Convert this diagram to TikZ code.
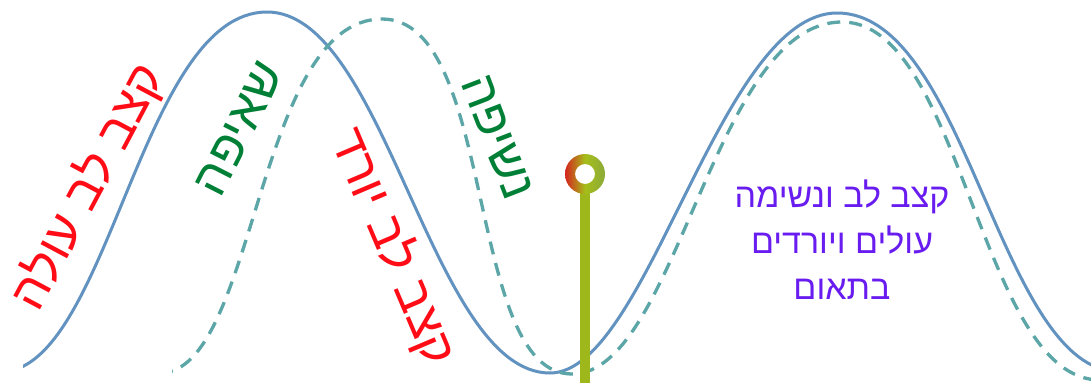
\documentclass[tikz,border=0pt]{standalone}
\usepackage{fontspec}
\newfontfamily\heb[Script=Hebrew]{Liberation Sans}
\TeXXeTstate=1
\definecolor{hrblue}{RGB}{98,146,192}
\definecolor{brteal}{RGB}{92,166,168}
\definecolor{txtred}{RGB}{255,12,22}
\definecolor{txtgreen}{RGB}{0,128,55}
\definecolor{txtpurple}{RGB}{105,28,240}
\definecolor{pinred}{RGB}{212,36,30}
\definecolor{pinmid}{RGB}{166,190,26}
\definecolor{pinolive}{RGB}{140,170,58}
\definecolor{pinline}{RGB}{158,184,28}
\begin{document}
\begin{tikzpicture}[x=1pt,y=-1pt,
  heart/.style={draw=hrblue, line width=3pt, line cap=round},
  breath/.style={draw=brteal, line width=3.3pt, dash pattern=on 13pt off 9pt},
  biglbl/.style={inner sep=0pt, font=\heb\fontsize{50}{50}\selectfont},
  redlbl/.style={biglbl, text=txtred},
  greenlbl/.style={biglbl, text=txtgreen},
  notelbl/.style={inner sep=0pt, align=center, text=txtpurple, font=\heb\fontsize{34}{46}\selectfont}
]
\useasboundingbox (0,0) rectangle (1091,383);
\fill[white] (0,0) rectangle (1091,383);

% heart-rate curve (solid)
\begin{scope}
\clip (23,0) rectangle (1091,383);
\draw[heart] (0,372) .. controls (109,372) and (140,12) .. (267,12)
  .. controls (386,12) and (431,373) .. (550,373)
  .. controls (647.6,373) and (719.3,13) .. (837,13)
  .. controls (968,13) and (998.3,372) .. (1120,372);
\end{scope}

% breathing curve (dashed)
\begin{scope}
\clip (172,0) rectangle (1091,383);
\draw[breath] (160,373) .. controls (256,373) and (256,19) .. (382,19)
  .. controls (497,19) and (465,374) .. (572,374)
  .. controls (677,374) and (713,22) .. (842,22)
  .. controls (962,22) and (980,380) .. (1100,380);
\end{scope}

% labels
\node[redlbl, rotate=62] (hrup) at (88,187) {\beginR קצב לב עולה\endR};
\node[greenlbl, rotate=63] (inhale) at (240,129) {\beginR שאיפה\endR};
\node[redlbl, rotate=-67] (hrdown) at (393,247) {\beginR קצב לב יורד\endR};
\node[greenlbl, rotate=-69] (exhale) at (497,137) {\beginR נשיפה\endR};
\node[notelbl] (note) at (842,240) {\beginR קצב לב ונשימה\endR\\ \beginR עולים ויורדים\endR\\ \beginR בתאום\endR};

% pin
\node[circle, minimum size=20pt, inner sep=0pt] (pin) at (585,174) {};
\coordinate (pinbase) at (585,383);
\draw[pinline, line width=10pt] (pin.south) -- (pinbase);
\shade[left color=pinred, right color=pinolive, middle color=pinmid, even odd rule]
  (pin.center) circle[radius=20pt] (pin.center) circle[radius=10pt];
\end{tikzpicture}
\end{document}
